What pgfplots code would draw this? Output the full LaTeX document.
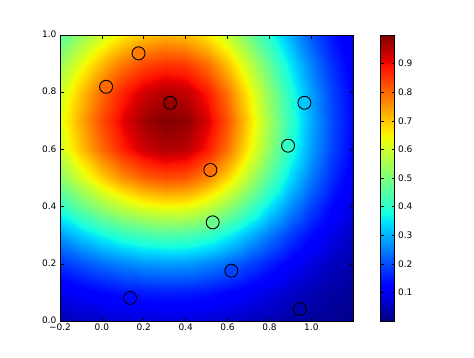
\documentclass[border=0pt]{standalone}
\usepackage{pgfplots}
\pgfplotsset{compat=1.18}
\usepackage{fontspec}
\setmainfont{DejaVu Sans}
\pgfplotsset{
  colormap={mpljet}{rgb(0pt)=(0,0,0.5) rgb(11pt)=(0,0,1) rgb(12.5pt)=(0,0,1) rgb(34pt)=(0,0.86,1) rgb(35pt)=(0,0.9,0.968) rgb(37.5pt)=(0.081,1,0.887) rgb(64pt)=(0.935,1,0.032) rgb(65pt)=(0.968,0.963,0) rgb(66pt)=(1,0.926,0) rgb(89pt)=(1,0.074,0) rgb(91pt)=(0.909,0,0) rgb(100pt)=(0.5,0,0)}
}
\begin{document}
\begin{tikzpicture}[x=1pt,y=1pt]
\path[use as bounding box] (0,0) rectangle (474,357);
\begin{axis}[
  at={(60pt,36pt)}, anchor=south west,
  scale only axis, width=293pt, height=286pt,
  xmin=-0.2, xmax=1.199, ymin=0, ymax=1,
  enlargelimits=false,
  xtick={-0.2,0,0.2,0.4,0.6,0.8,1.0},
  xticklabels={−0.2,0.0,0.2,0.4,0.6,0.8,1.0},
  ytick={0,0.2,0.4,0.6,0.8,1.0},
  yticklabels={0.0,0.2,0.4,0.6,0.8,1.0},
  tick align=inside, major tick length=3.5pt,
  tick style={black, line width=0.6pt},
  axis line style={black, line width=0.8pt},
  ticklabel style={font=\fontsize{9}{11}\selectfont},
  xticklabel style={yshift=-0.8pt, inner sep=1.5pt},
  yticklabel style={yshift=0.6pt},
  colormap name=mpljet,
  point meta min=0, point meta max=1,
  axis on top,
  colorbar,
  colorbar style={
    at={(parent axis.north east)}, anchor=north west, xshift=19pt,
    scale only axis, width=14pt, height=286pt,
    ytick={0.1,0.2,0.3,0.4,0.5,0.6,0.7,0.8,0.9},
    yticklabels={0.1,0.2,0.3,0.4,0.5,0.6,0.7,0.8,0.9},
    yticklabel pos=right,
    tick align=inside, major tick length=3pt,
    tick style={black, line width=0.6pt},
    axis line style={black, line width=0.8pt},
    yticklabel style={font=\fontsize{9}{11}\selectfont, yshift=0pt},
  },
]
\addplot[surf, shader=interp, mesh/cols=15, point meta=explicit] table[meta=c] {
x y c
-0.2 0.0 0.048
-0.1 0.0 0.057
0.0 0.0 0.065
0.1 0.0 0.071
0.2 0.0 0.075
0.3 0.0 0.077
0.4 0.0 0.076
0.5 0.0 0.072
0.6 0.0 0.063
0.7 0.0 0.053
0.8 0.0 0.042
0.9 0.0 0.032
1.0 0.0 0.023
1.1 0.0 0.015
1.2 0.0 0.010

-0.2 0.1 0.097
-0.1 0.1 0.113
0.0 0.1 0.129
0.1 0.1 0.142
0.2 0.1 0.150
0.3 0.1 0.155
0.4 0.1 0.153
0.5 0.1 0.143
0.6 0.1 0.127
0.7 0.1 0.107
0.8 0.1 0.085
0.9 0.1 0.064
1.0 0.1 0.045
1.1 0.1 0.031
1.2 0.1 0.020

-0.2 0.2 0.173
-0.1 0.2 0.203
0.0 0.2 0.231
0.1 0.2 0.254
0.2 0.2 0.270
0.3 0.2 0.277
0.4 0.2 0.274
0.5 0.2 0.256
0.6 0.2 0.227
0.7 0.2 0.191
0.8 0.2 0.152
0.9 0.2 0.114
1.0 0.2 0.081
1.1 0.2 0.055
1.2 0.2 0.035

-0.2 0.3 0.278
-0.1 0.3 0.327
0.0 0.3 0.371
0.1 0.3 0.408
0.2 0.3 0.433
0.3 0.3 0.445
0.4 0.3 0.440
0.5 0.3 0.412
0.6 0.3 0.365
0.7 0.3 0.307
0.8 0.3 0.244
0.9 0.3 0.184
1.0 0.3 0.131
1.1 0.3 0.088
1.2 0.3 0.056

-0.2 0.4 0.401
-0.1 0.4 0.471
0.0 0.4 0.535
0.1 0.4 0.588
0.2 0.4 0.624
0.3 0.4 0.641
0.4 0.4 0.634
0.5 0.4 0.594
0.6 0.4 0.526
0.7 0.4 0.442
0.8 0.4 0.351
0.9 0.4 0.265
1.0 0.4 0.189
1.1 0.4 0.127
1.2 0.4 0.081

-0.2 0.5 0.518
-0.1 0.5 0.608
0.0 0.5 0.691
0.1 0.5 0.759
0.2 0.5 0.807
0.3 0.5 0.829
0.4 0.5 0.819
0.5 0.5 0.767
0.6 0.5 0.680
0.7 0.5 0.571
0.8 0.5 0.454
0.9 0.5 0.342
1.0 0.5 0.244
1.1 0.5 0.165
1.2 0.5 0.105

-0.2 0.6 0.600
-0.1 0.6 0.705
0.0 0.6 0.801
0.1 0.6 0.880
0.2 0.6 0.935
0.3 0.6 0.960
0.4 0.6 0.949
0.5 0.6 0.888
0.6 0.6 0.788
0.7 0.6 0.662
0.8 0.6 0.526
0.9 0.6 0.396
1.0 0.6 0.282
1.1 0.6 0.191
1.2 0.6 0.122

-0.2 0.7 0.623
-0.1 0.7 0.733
0.0 0.7 0.832
0.1 0.7 0.914
0.2 0.7 0.971
0.3 0.7 0.998
0.4 0.7 0.986
0.5 0.7 0.924
0.6 0.7 0.819
0.7 0.7 0.688
0.8 0.7 0.547
0.9 0.7 0.412
1.0 0.7 0.293
1.1 0.7 0.198
1.2 0.7 0.127

-0.2 0.8 0.597
-0.1 0.8 0.702
0.0 0.8 0.797
0.1 0.8 0.876
0.2 0.8 0.930
0.3 0.8 0.956
0.4 0.8 0.944
0.5 0.8 0.885
0.6 0.8 0.784
0.7 0.8 0.659
0.8 0.8 0.524
0.9 0.8 0.394
1.0 0.8 0.281
1.1 0.8 0.190
1.2 0.8 0.121

-0.2 0.9 0.535
-0.1 0.9 0.629
0.0 0.9 0.715
0.1 0.9 0.785
0.2 0.9 0.834
0.3 0.9 0.857
0.4 0.9 0.847
0.5 0.9 0.793
0.6 0.9 0.703
0.7 0.9 0.591
0.8 0.9 0.469
0.9 0.9 0.353
1.0 0.9 0.252
1.1 0.9 0.170
1.2 0.9 0.109

-0.2 1.0 0.449
-0.1 1.0 0.528
0.0 1.0 0.600
0.1 1.0 0.659
0.2 1.0 0.700
0.3 1.0 0.719
0.4 1.0 0.710
0.5 1.0 0.665
0.6 1.0 0.590
0.7 1.0 0.495
0.8 1.0 0.394
0.9 1.0 0.297
1.0 1.0 0.211
1.1 1.0 0.143
1.2 1.0 0.091
};
\addplot[scatter, only marks, mark=*, mark size=6.5pt, point meta=explicit,
  mark options={line width=0.9pt},
  scatter/use mapped color={draw=black, fill=mapped color}] table[meta=c] {
x y c
0.020 0.819 0.80
0.175 0.936 0.78
0.326 0.763 0.98
0.518 0.528 0.79
0.529 0.345 0.48
0.618 0.176 0.19
0.135 0.081 0.13
0.889 0.613 0.41
0.967 0.763 0.32
0.945 0.042 0.04
};
\end{axis}
\end{tikzpicture}
\end{document}
